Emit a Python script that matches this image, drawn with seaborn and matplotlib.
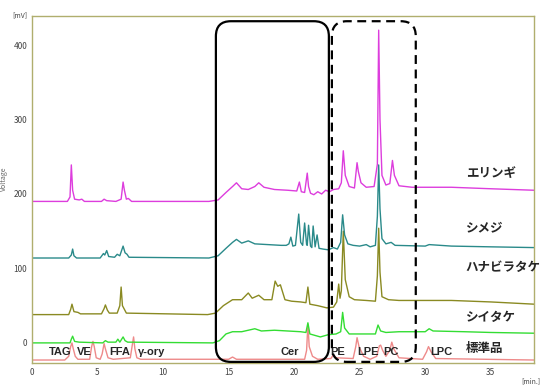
import numpy as np
import pandas as pd
import matplotlib.pyplot as plt
import seaborn as sns
from matplotlib.patches import FancyBboxPatch

# --------------------------------------------------------------------------------
# Data (time [min], signal [mV])
# --------------------------------------------------------------------------------

eringi_t = [0, 2.7, 2.9, 3.0, 3.1, 3.25, 3.6, 3.8, 4.0, 5.3, 5.5, 5.7, 6.4, 6.8, 6.95, 7.05, 7.2, 7.35, 7.6,
            13.5, 14.2, 14.8, 15.3, 15.6, 16.0, 16.5, 17.0, 17.3, 17.7, 18.5, 19.5, 20.2, 20.4, 20.55, 20.8,
            21.0, 21.1, 21.25, 21.5, 21.8, 22.1, 22.4, 22.7, 23.0, 23.4, 23.6, 23.75, 23.9, 24.2, 24.6, 24.8,
            24.9, 25.1, 25.5, 26.1, 26.35, 26.45, 26.55, 26.7, 27.0, 27.3, 27.5, 27.65, 28.0, 29, 32, 35, 38.3]
eringi_v = [190, 190, 196, 239, 205, 193, 192, 193, 190, 190, 193, 191, 190, 193, 216, 205, 193, 194, 190,
            190, 192, 202, 210, 215, 207, 206, 210, 215, 209, 206, 205, 204, 216, 203, 202,
            228, 210, 201, 199, 203, 200, 205, 203, 206, 207, 215, 258, 225, 210, 208, 242,
            230, 215, 209, 210, 240, 420, 300, 225, 212, 214, 245, 225, 211, 209, 209, 207, 205]

shimeji_t = [0, 2.8, 3.0, 3.1, 3.2, 3.4, 5.2, 5.45, 5.55, 5.7, 5.85, 6.3, 6.5, 6.7, 6.95, 7.1, 7.25, 7.4,
             13.5, 14.2, 14.8, 15.3, 15.6, 16.0, 16.5, 17.0, 18.0, 19.0, 19.4, 19.6, 19.75, 19.9, 20.1,
             20.35, 20.5, 20.65, 20.8, 20.95, 21.0, 21.1, 21.25, 21.35, 21.45, 21.6, 21.75, 21.9, 22.2,
             22.6, 23.0, 23.3, 23.55, 23.7, 23.85, 24.1, 24.5, 25.0, 25.5, 25.8, 26.2, 26.35, 26.45, 26.55,
             26.7, 27.0, 27.4, 27.7, 30.0, 30.3, 32, 35, 38.3]
shimeji_v = [114, 114, 118, 126, 117, 114, 114, 120, 118, 124, 116, 115, 119, 117, 130, 121, 119, 115,
             114, 117, 127, 135, 139, 134, 137, 133, 132, 131, 131, 133, 142, 130, 131,
             173, 135, 131, 161, 132, 131, 158, 130, 128, 157, 129, 145, 127, 126,
             125, 128, 126, 135, 172, 145, 133, 131, 130, 132, 129, 131, 170, 239, 180,
             140, 133, 135, 131, 130, 132, 130, 129, 128]

hanabira_t = [0, 2.8, 2.95, 3.05, 3.2, 3.5, 3.7, 5.3, 5.5, 5.6, 5.75, 5.9, 6.5, 6.7, 6.8, 6.9, 7.05, 7.2,
              13.4, 14.0, 14.6, 15.3, 16.0, 16.5, 16.8, 17.3, 17.7, 18.3, 18.55, 18.75, 18.95, 19.3, 19.8,
              20.5, 20.9, 21.05, 21.2, 21.8, 22.5, 23.0, 23.25, 23.4, 23.5, 23.6, 23.75, 23.9, 24.2, 24.6,
              25.5, 26.2, 26.35, 26.45, 26.55, 26.7, 27.2, 28, 30, 32, 35, 38.3]
hanabira_v = [38, 38, 45, 52, 42, 41, 39, 39, 46, 51, 44, 40, 40, 50, 75, 50, 45, 40,
              38, 40, 50, 58, 58, 67, 60, 64, 58, 58, 83, 76, 78, 58, 56,
              55, 54, 75, 52, 50, 47, 48, 55, 79, 60, 70, 150, 85, 62, 58,
              57, 56, 90, 154, 95, 62, 58, 57, 57, 57, 55, 52]

shiitake_t = [0, 2.9, 3.0, 3.1, 3.25, 3.6, 5.4, 5.6, 5.8, 6.4, 6.55, 6.7, 6.95, 7.1, 7.3, 13.8, 14.3, 14.8,
              15.3, 16.0, 17.0, 17.5, 18.5, 19.5, 20.5, 20.9, 21.05, 21.2, 21.6, 22.0, 22.6, 23.2, 23.55,
              23.7, 23.85, 24.2, 25.0, 26.2, 26.4, 26.6, 27.0, 28, 30.0, 30.3, 30.6, 33, 35, 38.3]
shiitake_v = [0, 0, 5, 9, 2, 1, 0, 3, 1, 1, 5, 1, 8, 3, 1, 0, 3, 12,
              15, 15, 19, 16, 17, 16, 15, 14, 27, 12, 10, 8, 11, 12, 15,
              41, 20, 12, 12, 12, 24, 16, 14, 15, 15, 19, 16, 15, 14, 13]

std_t = [0, 2.5, 2.8, 2.95, 3.05, 3.15, 3.3, 3.5, 4.4, 4.55, 4.65, 4.75, 4.9, 5.2, 5.35, 5.5, 5.6, 5.8,
         6.2, 7.5, 7.65, 7.75, 7.85, 8.0, 8.3, 15.0, 15.3, 15.6, 20.8, 20.95, 21.05, 21.15, 21.4, 21.8,
         22.8, 23.0, 23.2, 24.5, 24.7, 24.8, 24.95, 25.3, 25.8, 26.3, 26.5, 26.6, 26.75, 27.0, 27.3,
         27.45, 27.6, 28.0, 29.8, 30.1, 30.25, 30.45, 30.8, 38.3]
std_v = [-23, -23, -18, -5, 0, -8, -18, -22, -22, -5, 2, -5, -20, -22, -15, -1, -8, -20,
         -22, -20, -3, 8, -8, -20, -22, -22, -19, -22, -22, -10, 25, -5, -18, -22,
         -21, -16, -20, -21, -5, 7, -5, -18, -22, -18, -4, -3, -10, -18, -10,
         1, -8, -20, -22, -12, -5, -12, -21, -23]

sample_names = ["エリンギ", "シメジ", "ハナビラタケ", "シイタケ", "標準品"]
sample_label_y = [228, 154, 101, 34, -7]
sample_colors = ["#dd3ddd", "#2a8a8a", "#8a8a22", "#33dd33", "#ee8a8a"]

comp_names = ["TAG", "VE", "FFA", "γ-ory", "Cer", "PE", "LPE", "PC", "LPC"]
comp_x = [2.15, 4.0, 6.7, 9.1, 19.7, 23.3, 25.6, 27.4, 31.2]

x_ticks = [0, 5, 10, 15, 20, 25, 30, 35]
y_ticks = [0, 100, 200, 300, 400]

# boxes: (x0, x1) in minutes
cer_box = [14.03, 22.65]
pl_box = [22.88, 29.28]

# --------------------------------------------------------------------------------
# Plot
# --------------------------------------------------------------------------------

sns.set_style("white")
plt.rcParams['font.family'] = ['Noto Sans CJK JP', 'DejaVu Sans']

fig = plt.figure(figsize = (5.41, 3.86), dpi = 100)
ax = fig.add_axes([32 / 541, 1 - 363 / 386, 502 / 541, 347 / 386])

series = [(eringi_t, eringi_v), (shimeji_t, shimeji_v), (hanabira_t, hanabira_v),
          (shiitake_t, shiitake_v), (std_t, std_v)]
for (t, v), c in zip(series[::-1], sample_colors[::-1]):
    sns.lineplot(x = t, y = v, color = c, lw = 1.0, ax = ax, estimator = None, sort = False)

ax.set_xlim(0, 38.3)
ax.set_ylim(-27, 439)
ax.set_xticks(x_ticks)
ax.set_yticks(y_ticks)
ax.tick_params(labelsize = 6, colors = "#444444", length = 2, width = 0.6, pad = 1.5)
for s in ax.spines.values():
    s.set_color("#b0ae6e")
    s.set_linewidth(1.0)
ax.set_xlabel("")
ax.set_ylabel("Voltage", fontsize = 5, color = "#666666")
ax.yaxis.set_label_coords(-0.047, 0.53)

for name, y in zip(sample_names, sample_label_y):
    ax.text(33.1, y, name, fontsize = 9, fontweight = "bold", va = "center", ha = "left", clip_on = False)

for name, x in zip(comp_names, comp_x):
    ax.text(x, -12, name, fontsize = 8, fontweight = "bold", va = "center", ha = "center",
            family = ['Liberation Sans', 'DejaVu Sans'])

fig.text(20 / 541, 1 - 15 / 386, "[mV]", fontsize = 5, color = "#444444", ha = "center", va = "center")
fig.text(531 / 541, 1 - 381 / 386, "[min.]", fontsize = 5, color = "#444444", ha = "center", va = "center")

# rounded boxes, aspect from axes size in pixels
ax_w, ax_h = 502.0, 347.0
x_per_px = 38.3 / ax_w
y_per_px = (439 + 27) / ax_h
aspect = y_per_px / x_per_px
radius = 15 * x_per_px
y0, y1 = -25.5, 432
for (bx0, bx1), ls in [(cer_box, "-"), (pl_box, (0, (4, 2.5)))]:
    box = FancyBboxPatch((bx0, y0), bx1 - bx0, y1 - y0,
                         boxstyle = "round,pad=0,rounding_size=%f" % radius,
                         mutation_aspect = aspect, fill = False, ec = "black",
                         lw = 1.6, ls = ls, clip_on = False, zorder = 5)
    ax.add_patch(box)

fig.savefig("out.png", dpi = 100)
